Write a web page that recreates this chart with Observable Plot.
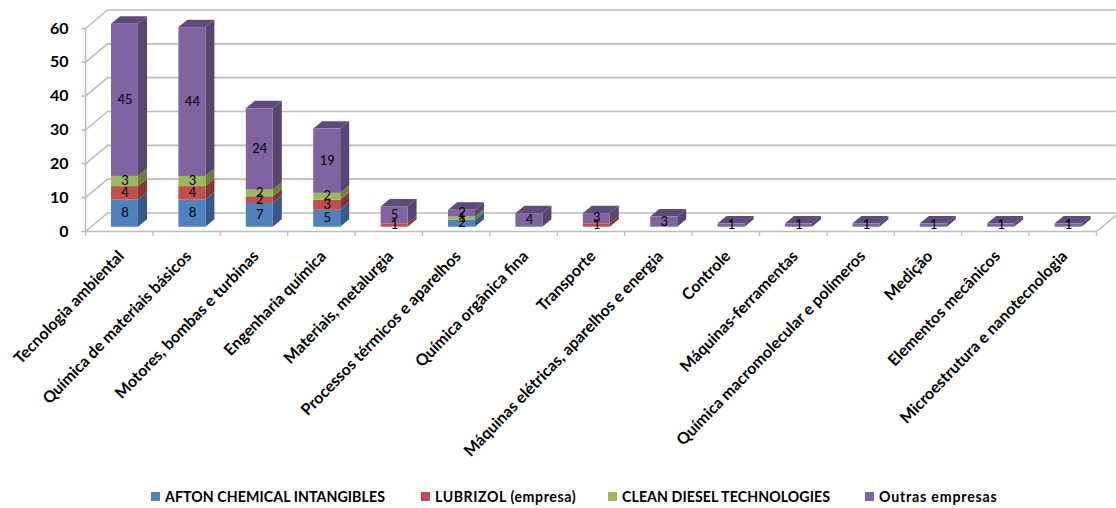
<!DOCTYPE html>
<html lang="pt">
<head>
<meta charset="utf-8">
<script src="https://cdn.jsdelivr.net/npm/d3@7"></script>
<script src="https://cdn.jsdelivr.net/npm/@observablehq/plot@0.6"></script>
<style>
  html, body { margin: 0; padding: 0; background: #fff; }
  #chart { width: 1116px; height: 508px; position: relative; overflow: hidden; font-family: Lato, sans-serif; }
  #chart svg { display: block; overflow: visible; }
  .legend { position: absolute; left: 0; top: 488px; height: 18px; width: 1116px; font: bold 14.2px Lato, sans-serif; color: #000; }
  .legend span { position: absolute; top: 0; line-height: 18px; white-space: nowrap; }
  .legend i { position: absolute; top: 4px; width: 9px; height: 9px; }
</style>
</head>
<body>
<div id="chart"></div>
<script>
const categories = [
  "Tecnologia ambiental", "Química de materiais básicos", "Motores, bombas e turbinas",
  "Engenharia química", "Materiais, metalurgia", "Processos térmicos e aparelhos",
  "Química orgânica fina", "Transporte", "Máquinas elétricas, aparelhos e energia",
  "Controle", "Máquinas-ferramentas", "Química macromolecular e polímeros",
  "Medição", "Elementos mecânicos", "Microestrutura e nanotecnologia"
];
const afton    = [8, 8, 7, 5, 0, 2, 0, 0, 0, 0, 0, 0, 0, 0, 0];
const lubrizol = [4, 4, 2, 3, 1, 0, 0, 1, 0, 0, 0, 0, 0, 0, 0];
const clean    = [3, 3, 2, 2, 0, 1, 0, 0, 0, 0, 0, 0, 0, 0, 0];
const outras   = [45, 44, 24, 19, 5, 2, 4, 3, 3, 1, 1, 1, 1, 1, 1];
const yTicks = [0, 10, 20, 30, 40, 50, 60];

const seriesNames = ["AFTON CHEMICAL INTANGIBLES", "LUBRIZOL (empresa)", "CLEAN DIESEL TECHNOLOGIES", "Outras empresas"];
const seriesValues = [afton, lubrizol, clean, outras];
const frontColors = ["#4F81BD", "#C0504D", "#9BBB59", "#8064A2"];
const sideColors  = ["#37588A", "#863735", "#6C8239", "#584570"];
const topColor = "#5F4B7B";
const gridColor = "#BDBDBD";

// Oblique projection, expressed in data units: depth shifts right along x and up along y.
const wallDx = 0.326, wallDy = 5.47;
const barDx = 0.134, barDy = 2.2;
const barLeft = 0.386, barWidth = 0.4, barBase = 1.27;
const xMax = 15.33;

// Stack the series for each category.
const segments = [];
categories.forEach((category, i) => {
  let y0 = barBase;
  seriesValues.forEach((values, s) => {
    const value = values[i];
    if (value > 0) {
      segments.push({i, s, value, x1: i + barLeft, x2: i + barLeft + barWidth, y0, y1: y0 + value});
      y0 += value;
    }
  });
});
const tops = categories.map((_, i) => segments.filter(d => d.i === i).at(-1));

const sideRows = segments.flatMap((d, k) => [
  {k, x: d.x2, y1: d.y0, y2: d.y1, fill: sideColors[d.s]},
  {k, x: d.x2 + barDx, y1: d.y0 + barDy, y2: d.y1 + barDy, fill: sideColors[d.s]}
]);
const topRows = tops.flatMap((d, k) => [
  {k, y: d.y1, x1: d.x1, x2: d.x2},
  {k, y: d.y1 + barDy, x1: d.x1 + barDx, x2: d.x2 + barDx}
]);

// Walls and floor of the chart box.
const diagonals = yTicks.flatMap(t => [{t, x: 0, y: t}, {t, x: wallDx, y: t + wallDy}]);
const floorEdge = [{x: 15, y: 0}, {x: 15 + wallDx - 0.02, y: wallDy - 0.4}];
const xTickPositions = d3.range(0, 16);

const plot = Plot.plot({
  width: 1116,
  height: 480,
  marginLeft: 85,
  marginRight: 20,
  marginTop: 28,
  marginBottom: 249,
  x: {domain: [0, 15], axis: null},
  y: {domain: [0, 60], label: null},
  marks: [
    // back wall gridlines and their links to the front axis
    Plot.ruleY(yTicks, {
      y: d => d + wallDy,
      x1: wallDx,
      x2: xMax,
      stroke: gridColor,
      strokeWidth: 1.6
    }),
    Plot.line(diagonals, {x: "x", y: "y", z: "t", stroke: gridColor, strokeWidth: 1.6}),
    Plot.line(floorEdge, {x: "x", y: "y", stroke: gridColor, strokeWidth: 1.6}),
    Plot.ruleX([0], {y1: 0, y2: 60, stroke: gridColor, strokeWidth: 1.6}),
    Plot.ruleY([0], {x1: 0, x2: 15, stroke: gridColor, strokeWidth: 1.6}),
    Plot.ruleX(xTickPositions, {x: d => d, y1: -1.4, y2: 0, stroke: gridColor, strokeWidth: 1.4}),
    Plot.axisY({
      ticks: yTicks,
      tickSize: 4,
      tickPadding: 13,
      stroke: gridColor,
      strokeWidth: 1.4,
      fill: "#000",
      fontSize: 16,
      fontWeight: "bold",
      fontFamily: "Lato, sans-serif",
      label: null
    }),
    // bar faces
    Plot.areaY(sideRows, {x: "x", y1: "y1", y2: "y2", z: "k", fill: {value: "fill", scale: null}, curve: "linear"}),
    Plot.areaX(topRows, {y: "y", x1: "x1", x2: "x2", z: "k", fill: topColor, curve: "linear"}),
    Plot.rect(segments, {
      x1: "x1", x2: "x2", y1: "y0", y2: "y1",
      fill: {value: d => frontColors[d.s], scale: null}
    }),
    // value labels
    Plot.text(segments, {
      x: d => (d.x1 + d.x2) / 2,
      y: d => (d.y0 + d.y1) / 2,
      text: d => String(d.value),
      dy: -0.5,
      fill: "#000",
      fontSize: 13,
      fontFamily: "Lato, sans-serif"
    }),
    // rotated category labels
    Plot.text(categories, {
      x: (_, i) => i + 0.53,
      y: 0,
      text: d => d,
      rotate: -46,
      textAnchor: "end",
      lineAnchor: "middle",
      dy: 22,
      fill: "#000",
      fontSize: 16,
      fontWeight: "bold",
      fontFamily: "Lato, sans-serif"
    })
  ]
});

const chart = document.getElementById("chart");
chart.append(plot);

// Legend row beneath the SVG
const legendSwatchX = [151, 421, 608, 865];
const legendTracking = [0.07, 0.55, 0.07, 0.8];
const legend = document.createElement("div");
legend.className = "legend";
seriesNames.forEach((name, s) => {
  const swatch = document.createElement("i");
  swatch.style.left = legendSwatchX[s] + "px";
  swatch.style.background = frontColors[s];
  const label = document.createElement("span");
  label.style.left = (legendSwatchX[s] + 14) + "px";
  label.style.letterSpacing = legendTracking[s] + "px";
  label.textContent = name;
  legend.append(swatch, label);
});
chart.append(legend);
</script>
</body>
</html>
